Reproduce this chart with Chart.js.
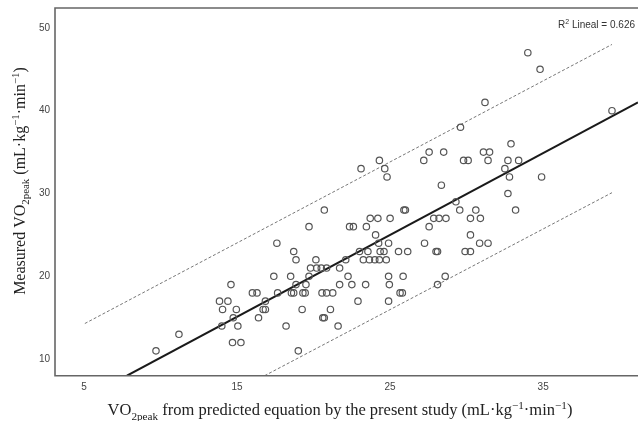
<!DOCTYPE html>
<html>
<head>
<meta charset="utf-8">
<script src="https://cdn.jsdelivr.net/npm/chart.js@4"></script>
<style>
html,body{margin:0;padding:0;background:#fff;overflow:hidden}
#wrap{width:638px;height:421px}
</style>
</head>
<body>
<div id="wrap"><canvas id="c"></canvas></div>
<script>
// predicted VO2peak (x) vs measured VO2peak (y), one row of the plot per line
const predicted=[
 34.0, 34.8, 31.2, 39.5, 29.6, 32.9,
 27.55, 28.5, 31.1, 31.5,
 24.3, 27.2, 29.8, 30.1, 31.4, 32.7, 33.4,
 23.1, 24.65, 32.5,
 24.8, 32.8, 34.9,
 28.35, 32.7, 29.3,
 20.7, 25.9, 26.0, 29.55, 30.6, 33.2,
 23.7, 24.2, 25.0, 27.85, 28.2, 28.65, 30.25, 30.9,
 19.7, 22.35, 22.6, 23.45, 27.55,
 24.05, 30.25,
 17.6, 24.25, 24.9, 27.25, 30.85, 31.4,
 18.7, 23.0, 23.55, 24.35, 24.6, 25.55, 26.15, 28.0, 28.1, 29.9, 30.25,
 18.85, 20.15, 22.1, 23.25, 23.65, 24.0, 24.3, 24.75,
 19.8, 20.2, 20.5, 20.85, 21.7,
 17.4, 18.5, 19.7, 22.25, 24.9, 25.85, 28.6,
 14.6, 18.85, 19.5, 21.7, 22.5, 23.4, 24.95, 28.1,
 16.0, 16.3, 17.65, 18.55, 18.7, 19.3, 19.45, 20.55, 20.85, 21.25, 25.65, 25.8,
 13.85, 14.4, 16.85, 22.9, 24.9,
 14.05, 14.95, 16.7, 16.85, 19.25, 21.1,
 14.75, 16.4, 20.6, 20.7,
 14.0, 15.05, 18.2, 21.6,
 11.2,
 14.7, 15.25,
 9.7, 19.0
];
const measured=[
 47, 45, 41, 40, 38, 36,
 35, 35, 35, 35,
 34, 34, 34, 34, 34, 34, 34,
 33, 33, 33,
 32, 32, 32,
 31, 30, 29,
 28, 28, 28, 28, 28, 28,
 27, 27, 27, 27, 27, 27, 27, 27,
 26, 26, 26, 26, 26,
 25, 25,
 24, 24, 24, 24, 24, 24,
 23, 23, 23, 23, 23, 23, 23, 23, 23, 23, 23,
 22, 22, 22, 22, 22, 22, 22, 22,
 21, 21, 21, 21, 21,
 20, 20, 20, 20, 20, 20, 20,
 19, 19, 19, 19, 19, 19, 19, 19,
 18, 18, 18, 18, 18, 18, 18, 18, 18, 18, 18, 18,
 17, 17, 17, 17, 17,
 16, 16, 16, 16, 16, 16,
 15, 15, 15, 15,
 14, 14, 14, 14,
 13,
 12, 12,
 11, 11
];
// fit line and the two dashed limits (end points)
const fitX=[7.8, 41.2], fitY=[8.0, 41.0];
const upperX=[5.05, 39.5], upperY=[14.3, 48.0];
const lowerX=[16.8, 39.5], lowerY=[8.0, 30.1];
const xTicks=[5, 15, 25, 35];
const yTicks=[10, 20, 30, 40, 50];
const rSquared="0.626";

const xTitle=[["VO",0],["2peak",-1],[" from predicted equation by the present study (mL·kg",0],["−1",1],["·min",0],["−1",1],[")",0]];
const yTitle=[["Measured VO",0],["2peak",-1],[" (mL·kg",0],["−1",1],["·min",0],["−1",1],[")",0]];

function pts(xs,ys){return xs.map((v,i)=>({x:v,y:ys[i]}));}

function richText(ctx,segs,x,y,size,family){
  let w=0;
  segs.forEach(s=>{ctx.font=(s[1]?size*0.68:size)+"px "+family;w+=ctx.measureText(s[0]).width;});
  let cx=x-w/2;
  ctx.textAlign="left";ctx.textBaseline="alphabetic";
  segs.forEach(s=>{
    const sz=s[1]?size*0.68:size;
    ctx.font=sz+"px "+family;
    let dy=0;
    if(s[1]==-1)dy=size*0.28;
    if(s[1]==1)dy=-size*0.38;
    ctx.fillText(s[0],cx,y+dy);
    cx+=ctx.measureText(s[0]).width;
  });
}

const decor={
  id:"decor",
  afterDraw(chart){
    const ctx=chart.ctx,a=chart.chartArea;
    ctx.save();
    ctx.strokeStyle="#666";ctx.lineWidth=1.6;
    ctx.beginPath();
    ctx.moveTo(a.right+2,a.top);ctx.lineTo(a.left,a.top);
    ctx.lineTo(a.left,a.bottom);ctx.lineTo(a.right+2,a.bottom);
    ctx.stroke();
    ctx.fillStyle="#222";
    const fam="'Liberation Serif', serif";
    richText(ctx,xTitle,340,415,16.5,fam);
    ctx.save();
    ctx.translate(25,181);ctx.rotate(-Math.PI/2);
    richText(ctx,yTitle,0,0,16,fam);
    ctx.restore();
    // R2 label
    ctx.fillStyle="#333";
    ctx.font="10px 'Liberation Sans', Arial, sans-serif";
    const rest=" Lineal = "+rSquared;
    const w2=ctx.measureText(rest).width;
    ctx.textAlign="left";
    let rx=a.right-3-w2;
    ctx.fillText(rest,rx,28);
    ctx.font="7px 'Liberation Sans', Arial, sans-serif";
    const ws=ctx.measureText("2").width;
    ctx.fillText("2",rx-ws,24);
    ctx.font="10px 'Liberation Sans', Arial, sans-serif";
    ctx.fillText("R",rx-ws-ctx.measureText("R").width,28);
    ctx.restore();
  }
};

new Chart(document.getElementById("c"),{
  type:"scatter",
  data:{datasets:[
    {data:pts(predicted,measured),pointRadius:3.2,pointBorderWidth:1.2,
     pointBorderColor:"#555",pointBackgroundColor:"rgba(0,0,0,0)",showLine:false},
    {data:pts(fitX,fitY),showLine:true,pointRadius:0,borderColor:"#1a1a1a",borderWidth:2},
    {data:pts(upperX,upperY),showLine:true,pointRadius:0,borderColor:"#777",borderWidth:1,borderDash:[3,2]},
    {data:pts(lowerX,lowerY),showLine:true,pointRadius:0,borderColor:"#777",borderWidth:1,borderDash:[3,2]}
  ]},
  options:{
    responsive:true,maintainAspectRatio:false,animation:false,
    layout:{autoPadding:false,padding:{top:8,right:0,left:0,bottom:0}},
    plugins:{legend:{display:false},tooltip:{enabled:false}},
    scales:{
      x:{type:"linear",min:3.1,max:41.2,
        grid:{display:false,drawTicks:false},border:{display:false},
        afterBuildTicks:s=>{s.ticks=xTicks.map(v=>({value:v}));},
        afterFit:s=>{s.height=45.3;s.paddingLeft=0;s.paddingRight=0;},
        ticks:{padding:6,color:"#444",font:{size:10,family:"'Liberation Sans', Arial, sans-serif"}}},
      y:{min:8,max:52.4,
        grid:{display:false,drawTicks:false},border:{display:false},
        afterBuildTicks:s=>{s.ticks=yTicks.map(v=>({value:v}));},
        afterFit:s=>{s.width=55;s.paddingTop=0;s.paddingBottom=0;},
        ticks:{padding:5,color:"#444",font:{size:10,family:"'Liberation Sans', Arial, sans-serif"}}}
    }
  },
  plugins:[decor]
});
</script>
</body>
</html>
